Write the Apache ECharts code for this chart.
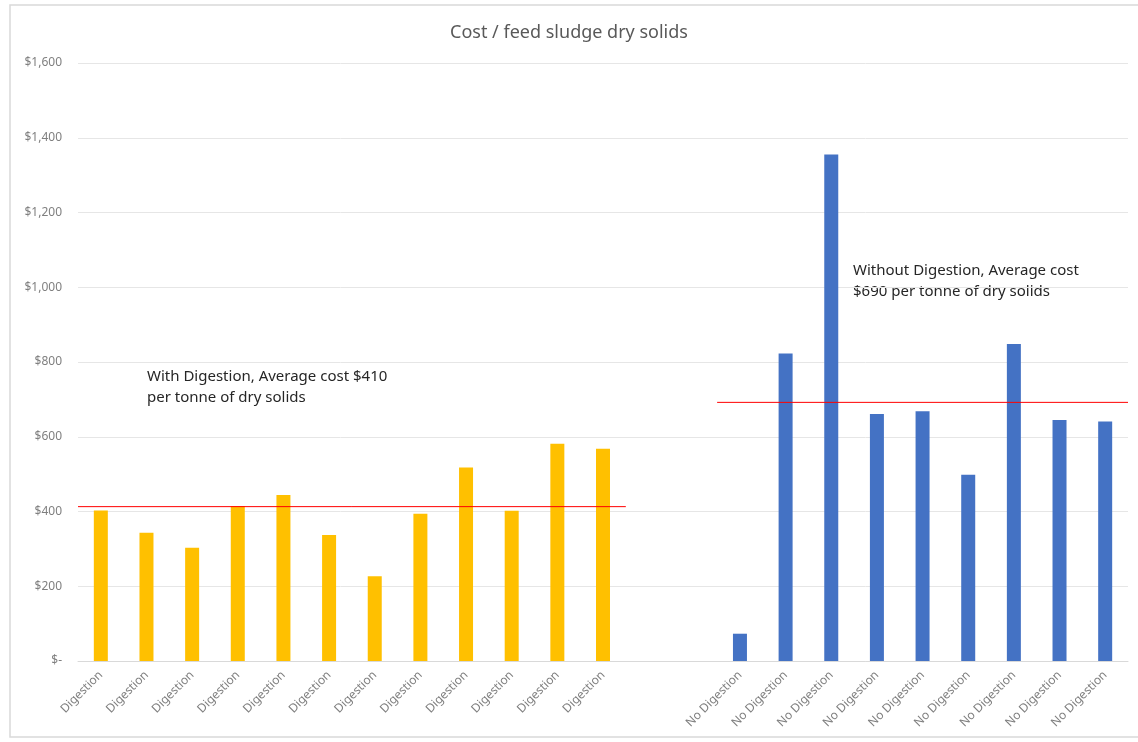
<!DOCTYPE html>
<html>
<head>
<meta charset="utf-8">
<script src="https://cdn.jsdelivr.net/npm/echarts@6/dist/echarts.min.js"></script>
<style>
html,body{margin:0;padding:0;background:#fff;}
#chart{width:1138px;height:742px;}
</style>
</head>
<body>
<div id="chart"></div>
<script>
// ---- data ----
const titleText = 'Cost / feed sludge dry solids';
const digestionLabel = 'Digestion';
const noDigestionLabel = 'No Digestion';
const digestionCosts = [403, 343, 303, 415, 444, 337, 227, 394, 518, 402, 581, 568];
const gapCount = 2;
const noDigestionCosts = [73, 823, 1355, 661, 668, 498, 848, 645, 641];
const digestionAverage = 413;
const noDigestionAverage = 692;
const yTicks = [0, 200, 400, 600, 800, 1000, 1200, 1400, 1600];
const digestionNote = 'With Digestion, Average cost $410\nper tonne of dry solids';
const noDigestionNote = 'Without Digestion, Average cost\n$690 per tonne of dry solids';

// ---- build ----
const categories = [];
digestionCosts.forEach(() => categories.push(digestionLabel));
for (let i = 0; i < gapCount; i++) categories.push('');
noDigestionCosts.forEach(() => categories.push(noDigestionLabel));
const n = categories.length;
const blueStart = digestionCosts.length + gapCount;

const yellowData = categories.map((c, i) => i < digestionCosts.length ? digestionCosts[i] : '-');
const blueData = categories.map((c, i) => i >= blueStart ? noDigestionCosts[i - blueStart] : '-');

const fmt = v => v === 0 ? '$-' : '$' + v.toLocaleString('en-US');

const chart = echarts.init(document.getElementById('chart'));
chart.setOption({
  backgroundColor: '#ffffff',
  animation: false,
  textStyle: { fontFamily: 'Noto Sans' },
  title: {
    text: titleText,
    left: 'center',
    top: 19,
    textStyle: { fontFamily: 'Noto Sans', fontSize: 18, fontWeight: 'normal', color: '#595959' }
  },
  graphic: [
    { type: 'rect', shape: { x: 10, y: 5, width: 1140, height: 732 }, style: { fill: 'none', stroke: '#d9d9d9', lineWidth: 1.5 }, silent: true },
    { type: 'text', left: 147, top: 366, style: { text: digestionNote, font: '15px "Noto Sans"', fill: '#262626', lineHeight: 21 } },
    { type: 'text', left: 853, top: 260, style: { text: noDigestionNote, font: '15px "Noto Sans"', fill: '#262626', lineHeight: 21 } }
  ],
  grid: { left: 78, right: 10, top: 63, bottom: 81, containLabel: false },
  xAxis: [
    {
      type: 'category',
      data: categories,
      axisLine: { show: true, lineStyle: { color: '#d9d9d9' } },
      axisTick: { show: false },
      axisLabel: { interval: 0, rotate: 45, fontSize: 12, color: '#7f7f7f', margin: 12, fontFamily: 'Noto Sans' },
      splitLine: { show: false }
    },
    {
      type: 'value',
      min: -0.5,
      max: n - 0.5,
      show: false
    }
  ],
  yAxis: {
    type: 'value',
    min: yTicks[0],
    max: yTicks[yTicks.length - 1],
    interval: yTicks[1] - yTicks[0],
    axisLine: { show: false },
    axisTick: { show: false },
    axisLabel: { formatter: fmt, fontSize: 12, color: '#7f7f7f', margin: 16, fontFamily: 'Noto Sans' },
    splitLine: { lineStyle: { color: '#e6e6e6' } }
  },
  series: [
    {
      type: 'bar', xAxisIndex: 0, data: yellowData, barWidth: 14, barGap: '-100%',
      itemStyle: { color: '#ffc000' }
    },
    {
      type: 'bar', xAxisIndex: 0, data: blueData, barWidth: 14, barGap: '-100%',
      itemStyle: { color: '#4472c4' }
    },
    {
      type: 'line', xAxisIndex: 1, symbol: 'none',
      lineStyle: { color: '#ff0000', width: 1 },
      data: [[-0.5, digestionAverage], [digestionCosts.length - 0.5, digestionAverage]]
    },
    {
      type: 'line', xAxisIndex: 1, symbol: 'none',
      lineStyle: { color: '#ff0000', width: 1 },
      data: [[blueStart - 0.5, noDigestionAverage], [n - 0.5, noDigestionAverage]]
    }
  ]
});
</script>
</body>
</html>
